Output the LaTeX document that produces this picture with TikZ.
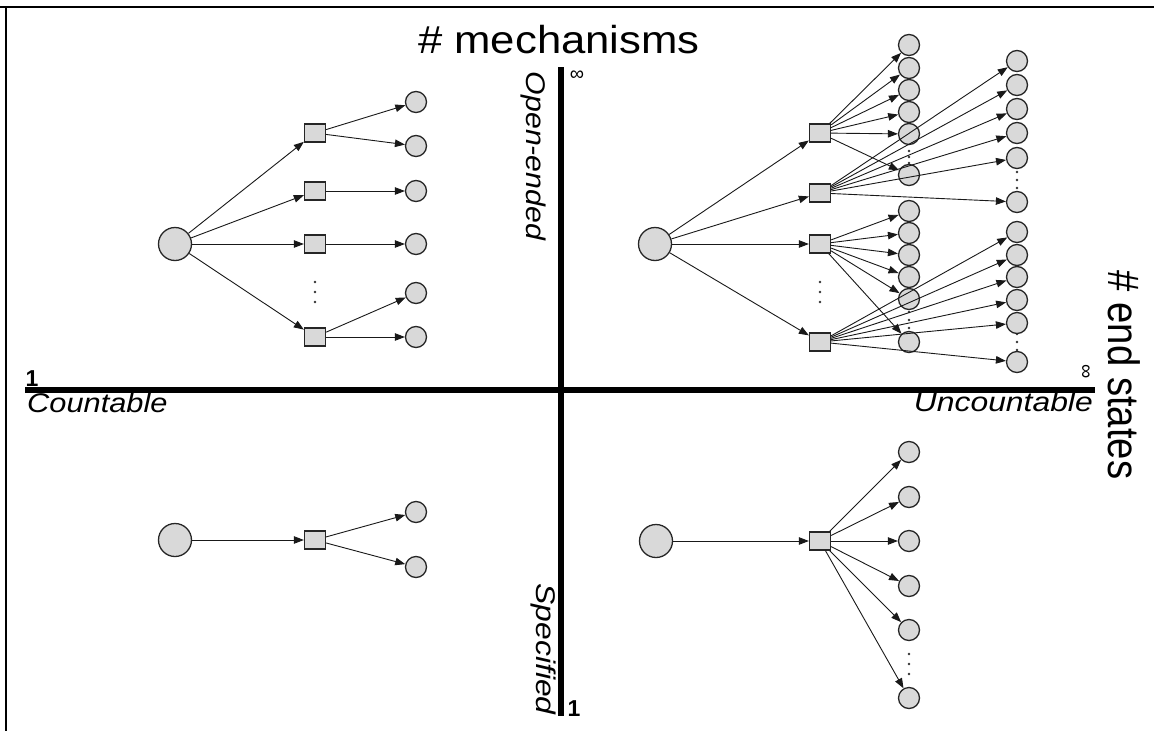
\documentclass[tikz,border=0pt]{standalone}
\usepackage{fontspec}
\setmainfont{Liberation Sans}
\usetikzlibrary{arrows.meta}
\begin{document}
\begin{tikzpicture}[x=1pt,y=-1pt,
  big/.style={circle,draw=black!85,fill=black!15,line width=1.3pt,minimum size=33pt,inner sep=0pt},
  sm/.style={circle,draw=black!85,fill=black!15,line width=1.3pt,minimum size=21pt,inner sep=0pt},
  sq/.style={rectangle,draw=black!85,fill=black!15,line width=1.3pt,minimum width=21pt,minimum height=18pt,inner sep=0pt},
  arr/.style={-{Triangle[length=10pt,width=7.5pt]},line width=0.9pt,draw=black!90},
  dot/.style={circle,fill=black!80,inner sep=0pt,minimum size=2.8pt},
  axisline/.style={line width=5.5pt},
  lab/.style={font=\fontsize{27}{27}\selectfont\itshape,inner sep=0pt},
  tick/.style={font=\fontsize{23}{23}\selectfont\bfseries,inner sep=0pt},
  infl/.style={font=\fontsize{20}{20}\selectfont,inner sep=0pt},
  title/.style={inner sep=0pt}]
\useasboundingbox (0,0) rectangle (1154,731);
\fill[white] (0,0) rectangle (1154,731);
% frame
\coordinate (f1) at (0,7);
\coordinate (f2) at (1154,7);
\coordinate (f3) at (6,7);
\coordinate (f4) at (6,731);
\draw[line width=2pt] (f1) -- (f2);
\draw[line width=2pt] (f3) -- (f4);
% axes
\coordinate (hx1) at (25,390);
\coordinate (hx2) at (1095,390);
\coordinate (vy1) at (561,67);
\coordinate (vy2) at (561,716);
\draw[axisline] (hx1) -- (hx2);
\draw[axisline] (vy1) -- (vy2);
% labels
\node[title,anchor=base] (tmech) at (559,53) {\fontsize{39}{39}\selectfont\scalebox{1.12}[1]{\# mechanisms}};
\node[title,anchor=base,rotate=-90] (tend) at (1108,375) {\fontsize{44}{44}\selectfont\scalebox{0.87}[1]{\# end states}};
\node[lab,anchor=base west] (lcount) at (27,412) {\scalebox{1.14}[1]{Countable}};
\node[lab,anchor=base east] (lunc) at (1093,411) {\scalebox{1.18}[1]{Uncountable}};
\node[lab,anchor=base,rotate=-90] (lopen) at (526,156) {\scalebox{1.12}[1]{Open-ended}};
\node[lab,anchor=base,rotate=-90] (lspec) at (536,649) {\scalebox{1.18}[1]{Specified}};
\node[tick,anchor=base] (one1) at (32,386) {1};
\node[tick,anchor=base] (one2) at (574,716) {1};
\node[infl] (inf1) at (577,76) {∞};
\node[infl,rotate=-90] (inf2) at (1085,372) {∞};

% ---------- top-left ----------
\node[big] (TLB) at (175,244) {};
\node[sq] (TLs1) at (315,133) {};
\node[sq] (TLs2) at (315,191) {};
\node[sq] (TLs3) at (315,244) {};
\node[sq] (TLs4) at (315,337) {};
\foreach \i/\y in {1/102,2/146,3/191,4/244,5/293,6/337}
  \node[sm] (TLc\i) at (416,\y) {};
\node[dot] (TLd1) at (315,282) {};
\node[dot] (TLd2) at (315,292) {};
\node[dot] (TLd3) at (315,302) {};
\foreach \i in {1,...,4} \draw[arr] (TLB) -- (TLs\i);
\draw[arr] (TLs1) -- (TLc1);
\draw[arr] (TLs1) -- (TLc2);
\draw[arr] (TLs2) -- (TLc3);
\draw[arr] (TLs3) -- (TLc4);
\draw[arr] (TLs4) -- (TLc5);
\draw[arr] (TLs4) -- (TLc6);

% ---------- bottom-left ----------
\node[big] (BLB) at (175,540) {};
\node[sq] (BLs) at (315,540) {};
\node[sm] (BLc1) at (416,512) {};
\node[sm] (BLc2) at (416,567) {};
\draw[arr] (BLB) -- (BLs);
\draw[arr] (BLs) -- (BLc1);
\draw[arr] (BLs) -- (BLc2);

% ---------- top-right ----------
\node[big] (TRB) at (655,244) {};
\node[sq] (TRs1) at (820,133) {};
\node[sq] (TRs2) at (820,193) {};
\node[sq] (TRs3) at (820,244) {};
\node[sq] (TRs4) at (820,342) {};
\node[dot] (TRd1) at (820,282) {};
\node[dot] (TRd2) at (820,292) {};
\node[dot] (TRd3) at (820,302) {};
% dots in columns
\foreach \n/\x/\y in {a1/909/151,a2/909/157,a3/909/163,
                      b1/909/312,b2/909/320,b3/909/328,
                      c1/1017/172,c2/1017/180,c3/1017/188,
                      e1/1017/334,e2/1017/342,e3/1017/350}
  \node[dot] (TRd\n) at (\x,\y) {};
\foreach \i/\y in {1/45,2/68,3/90,4/112,5/134,6/175,7/211,8/233,9/255,10/277,11/299,12/342}
  \node[sm] (TRp\i) at (909,\y) {};
\foreach \i/\y in {1/61,2/85,3/109,4/133,5/158,6/202,7/232,8/255,9/277,10/300,11/323,12/362}
  \node[sm] (TRq\i) at (1017,\y) {};
\foreach \i in {1,...,4} \draw[arr] (TRB) -- (TRs\i);
\foreach \i in {1,...,6} \draw[arr] (TRs1) -- (TRp\i);
\foreach \i in {1,...,6} \draw[arr] (TRs2) -- (TRq\i);
\foreach \i in {7,...,12} \draw[arr] (TRs3) -- (TRp\i);
\foreach \i in {7,...,12} \draw[arr] (TRs4) -- (TRq\i);

% ---------- bottom-right ----------
\node[big] (BRB) at (656,541) {};
\node[sq] (BRs) at (820,541) {};
\foreach \i/\y in {1/452,2/497,3/541,4/586,5/630,6/698}
  \node[sm] (BRc\i) at (909,\y) {};
\node[dot] (BRd1) at (909,654) {};
\node[dot] (BRd2) at (909,664) {};
\node[dot] (BRd3) at (909,674) {};
\draw[arr] (BRB) -- (BRs);
\foreach \i in {1,...,6} \draw[arr] (BRs) -- (BRc\i);
\end{tikzpicture}
\end{document}
